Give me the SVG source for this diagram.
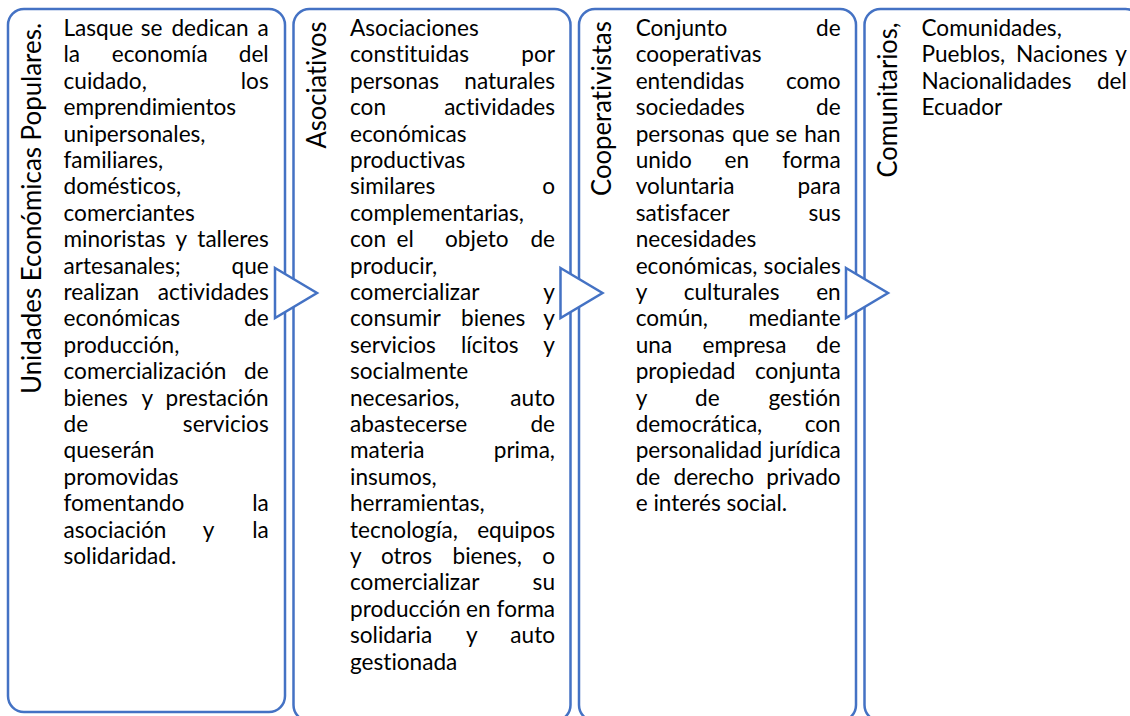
<svg xmlns="http://www.w3.org/2000/svg" width="1130" height="716" viewBox="0 0 1130 716">
<style>
.bg{fill:#fff}
.box{fill:#fff;stroke:#4472C4;stroke-width:2.5}
.arrow{fill:#fff;stroke:#4472C4;stroke-width:2.5;stroke-linejoin:miter}
text{font-family:Lato,"Liberation Sans",sans-serif;fill:#000;font-variant-ligatures:none;font-feature-settings:"liga" 0,"clig" 0,"dlig" 0}
.t{font-size:22.6px}
.e{text-anchor:end}
.lbl{font-size:26px}
</style>
<rect class="bg" x="0" y="0" width="1130" height="716"/>

<g id="node-unidades">
<rect class="box" x="8" y="9" width="277" height="703" rx="16" ry="16"/>
<text class="lbl" transform="translate(41,394) rotate(-90)" textLength="371" lengthAdjust="spacingAndGlyphs">Unidades Económicas Populares.</text>
<g class="t">
<text x="63.5" y="36">Lasque</text><text x="140.7" y="36">se</text><text x="171.4" y="36">dedican</text><text class="e" x="268.7" y="36">a</text>
<text x="63.5" y="62.4">la</text><text x="111.8" y="62.4">economía</text><text class="e" x="268.7" y="62.4">del</text>
<text x="63.5" y="88.8">cuidado,</text><text class="e" x="268.7" y="88.8">los</text>
<text x="63.5" y="115.2">emprendimientos</text>
<text x="63.5" y="141.6">unipersonales,</text>
<text x="63.5" y="168">familiares,</text>
<text x="63.5" y="194.4">domésticos,</text>
<text x="63.5" y="220.8">comerciantes</text>
<text x="63.5" y="247.2">minoristas</text><text x="175.6" y="247.2">y</text><text class="e" x="268.7" y="247.2">talleres</text>
<text x="63.5" y="273.6">artesanales;</text><text class="e" x="268.7" y="273.6">que</text>
<text x="63.5" y="300">realizan</text><text class="e" x="268.7" y="300">actividades</text>
<text x="63.5" y="326.4">económicas</text><text class="e" x="268.7" y="326.4">de</text>
<text x="63.5" y="352.8">producción,</text>
<text x="63.5" y="379.2">comercialización</text><text class="e" x="268.7" y="379.2">de</text>
<text x="63.5" y="405.6">bienes</text><text x="141.5" y="405.6">y</text><text class="e" x="268.7" y="405.6">prestación</text>
<text x="63.5" y="432">de</text><text class="e" x="268.7" y="432">servicios</text>
<text x="63.5" y="458.4">queserán</text>
<text x="63.5" y="484.8">promovidas</text>
<text x="63.5" y="511.2">fomentando</text><text class="e" x="268.7" y="511.2">la</text>
<text x="63.5" y="537.6">asociación</text><text x="202.8" y="537.6">y</text><text class="e" x="268.7" y="537.6">la</text>
<text x="63.5" y="564">solidaridad.</text>
</g>
</g>

<g id="node-asociativos">
<rect class="box" x="293.5" y="9" width="277" height="712" rx="16" ry="16"/>
<text class="lbl" transform="translate(325.5,148.5) rotate(-90)" textLength="127" lengthAdjust="spacingAndGlyphs">Asociativos</text>
<g class="t">
<text x="350" y="36">Asociaciones</text>
<text x="350" y="62.4">constituidas</text><text class="e" x="555" y="62.4">por</text>
<text x="350" y="88.8">personas</text><text class="e" x="555" y="88.8">naturales</text>
<text x="350" y="115.2">con</text><text class="e" x="555" y="115.2">actividades</text>
<text x="350" y="141.6">económicas</text>
<text x="350" y="168">productivas</text>
<text x="350" y="194.4">similares</text><text class="e" x="555" y="194.4">o</text>
<text x="350" y="220.8">complementarias,</text>
<text x="350" y="247.2">con</text><text x="396.5" y="247.2">el</text><text x="445" y="247.2">objeto</text><text class="e" x="555" y="247.2">de</text>
<text x="350" y="273.6">producir,</text>
<text x="350" y="300">comercializar</text><text class="e" x="555" y="300">y</text>
<text x="350" y="326.4">consumir</text><text x="461" y="326.4">bienes</text><text class="e" x="555" y="326.4">y</text>
<text x="350" y="352.8">servicios</text><text x="461" y="352.8">lícitos</text><text class="e" x="555" y="352.8">y</text>
<text x="350" y="379.2">socialmente</text>
<text x="350" y="405.6">necesarios,</text><text class="e" x="555" y="405.6">auto</text>
<text x="350" y="432">abastecerse</text><text class="e" x="555" y="432">de</text>
<text x="350" y="458.4">materia</text><text class="e" x="555" y="458.4">prima,</text>
<text x="350" y="484.8">insumos,</text>
<text x="350" y="511.2">herramientas,</text>
<text x="350" y="537.6">tecnología,</text><text class="e" x="555" y="537.6">equipos</text>
<text x="350" y="564">y</text><text x="381" y="564">otros</text><text x="452.5" y="564">bienes,</text><text class="e" x="555" y="564">o</text>
<text x="350" y="590.4">comercializar</text><text class="e" x="555" y="590.4">su</text>
<text x="350" y="616.8">producción</text><text x="466" y="616.8">en</text><text class="e" x="555" y="616.8">forma</text>
<text x="350" y="643.2">solidaria</text><text x="466" y="643.2">y</text><text class="e" x="555" y="643.2">auto</text>
<text x="350" y="669.6">gestionada</text>
</g>
</g>

<g id="node-cooperativistas">
<rect class="box" x="579" y="9" width="277" height="712" rx="16" ry="16"/>
<text class="lbl" transform="translate(611,196) rotate(-90)" textLength="175" lengthAdjust="spacingAndGlyphs">Cooperativistas</text>
<g class="t">
<text x="635.7" y="36">Conjunto</text><text class="e" x="840.7" y="36">de</text>
<text x="635.7" y="62.4">cooperativas</text>
<text x="635.7" y="88.8">entendidas</text><text class="e" x="840.7" y="88.8">como</text>
<text x="635.7" y="115.2">sociedades</text><text class="e" x="840.7" y="115.2">de</text>
<text x="635.7" y="141.6">personas</text><text x="732" y="141.6">que</text><text x="775.5" y="141.6">se</text><text class="e" x="840.7" y="141.6">han</text>
<text x="635.7" y="168">unido</text><text x="724.5" y="168">en</text><text class="e" x="840.7" y="168">forma</text>
<text x="635.7" y="194.4">voluntaria</text><text class="e" x="840.7" y="194.4">para</text>
<text x="635.7" y="220.8">satisfacer</text><text class="e" x="840.7" y="220.8">sus</text>
<text x="635.7" y="247.2">necesidades</text>
<text x="635.7" y="273.6">económicas,</text><text class="e" x="840.7" y="273.6">sociales</text>
<text x="635.7" y="300">y</text><text x="683.7" y="300">culturales</text><text class="e" x="840.7" y="300">en</text>
<text x="635.7" y="326.4">común,</text><text class="e" x="840.7" y="326.4">mediante</text>
<text x="635.7" y="352.8">una</text><text x="702.5" y="352.8">empresa</text><text class="e" x="840.7" y="352.8">de</text>
<text x="635.7" y="379.2">propiedad</text><text class="e" x="840.7" y="379.2">conjunta</text>
<text x="635.7" y="405.6">y</text><text x="695" y="405.6">de</text><text class="e" x="840.7" y="405.6">gestión</text>
<text x="635.7" y="432">democrática,</text><text class="e" x="840.7" y="432">con</text>
<text x="635.7" y="458.4">personalidad</text><text class="e" x="840.7" y="458.4">jurídica</text>
<text x="635.7" y="484.8">de</text><text x="673.5" y="484.8">derecho</text><text class="e" x="840.7" y="484.8">privado</text>
<text x="635.7" y="511.2">e interés social.</text>
</g>
</g>

<g id="node-comunitarios">
<rect class="box" x="864.5" y="9" width="277" height="712" rx="16" ry="16"/>
<text class="lbl" transform="translate(896.5,177.5) rotate(-90)" textLength="155" lengthAdjust="spacingAndGlyphs">Comunitarios,</text>
<g class="t">
<text x="921.5" y="36">Comunidades,</text>
<text x="921.5" y="62.4">Pueblos,</text><text x="1016" y="62.4">Naciones</text><text class="e" x="1126.8" y="62.4">y</text>
<text x="921.5" y="88.8">Nacionalidades</text><text class="e" x="1126.8" y="88.8">del</text>
<text x="921.5" y="115.2">Ecuador</text>
</g>
</g>

<g id="connectors">
<polygon class="arrow" points="275,268 317,293 275,318"/>
<polygon class="arrow" points="560.5,268 602.5,293 560.5,318"/>
<polygon class="arrow" points="846,268 888,293 846,318"/>
</g>
</svg>
